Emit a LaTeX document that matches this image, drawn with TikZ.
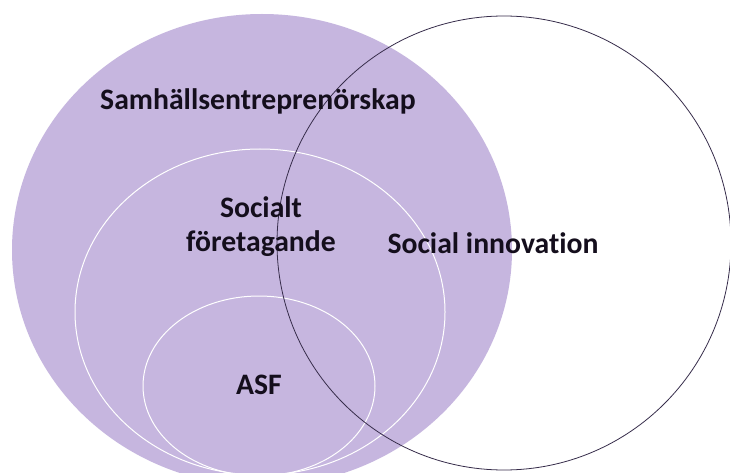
\documentclass[tikz,border=0pt]{standalone}
\usepackage{fontspec}
\setmainfont[Ligatures={NoCommon}]{Carlito}
\definecolor{lav}{RGB}{198,182,223}
\definecolor{ringline}{RGB}{55,45,75}
\definecolor{txt}{RGB}{20,14,28}
\tikzset{
  lbl/.style={font=\bfseries\fontsize{29.7}{34}\selectfont, text=txt, inner sep=0pt, align=center},
  inner ring/.style={draw=white, line width=1pt},
}
\begin{document}
\begin{tikzpicture}[x=1pt,y=-1pt]
\clip (0,0) rectangle (730,473);
\fill[white] (0,0) rectangle (730,473);
% Samhällsentreprenörskap area
\fill[lav] (262,250) ellipse [x radius=250, y radius=236];
% Socialt företagande
\draw[inner ring] (260,312) ellipse [x radius=185, y radius=163];
% ASF
\draw[inner ring] (259,386) ellipse [x radius=116, y radius=90];
% Social innovation
\draw[ringline, line width=0.8pt] (504,243) circle [radius=227];
\node[lbl] (samh) at (258,101) {Samhällsentreprenörskap};
\node[lbl] (sf) at (261,227) {Socialt\\företagande};
\node[lbl] (si) at (493,243) {Social innovation};
\node[lbl] (asf) at (259,385) {ASF};
\end{tikzpicture}
\end{document}
